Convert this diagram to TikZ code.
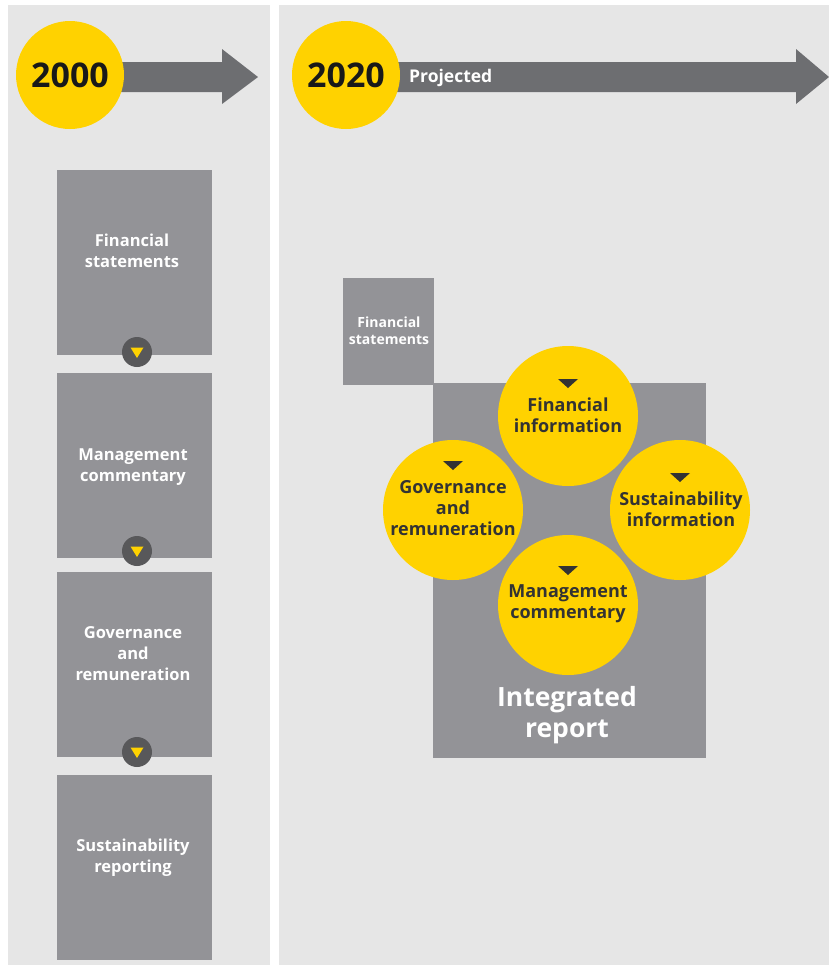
\documentclass[tikz,border=0pt]{standalone}
\usepackage{fontspec}
\setmainfont{Open Sans}
\usetikzlibrary{shapes.geometric,calc}
\definecolor{panelgray}{HTML}{E6E6E6}
\definecolor{boxgray}{HTML}{939397}
\definecolor{eyyellow}{HTML}{FFD200}
\definecolor{arrowgray}{HTML}{6D6E71}
\definecolor{dotgray}{HTML}{58585A}
\definecolor{darktext}{HTML}{333333}
\tikzset{
  panel/.style={fill=panelgray, draw=none},
  lbox/.style={rectangle, fill=boxgray, draw=none, inner sep=0pt},
  boxtext/.style={text=white, font=\bfseries\fontsize{16.5}{21}\selectfont, align=center, inner sep=0pt},
  yearcircle/.style={circle, fill=eyyellow, draw=none, minimum size=108pt, inner sep=0pt, text=black!90, font=\bfseries\fontsize{34}{34}\selectfont},
  bigarrow/.style={fill=arrowgray, draw=none},
  dotc/.style={circle, fill=dotgray, draw=none, minimum size=30pt, inner sep=0pt},
  ytri/.style={fill=eyyellow, draw=none},
  dtri/.style={fill=darktext, draw=none},
  ycirc/.style={circle, fill=eyyellow, draw=none, minimum size=140pt, inner sep=0pt},
  circtext/.style={text=darktext, font=\bfseries\fontsize{18}{21}\selectfont, align=center, inner sep=0pt},
}
\begin{document}
\begin{tikzpicture}[x=1pt,y=-1pt]
\useasboundingbox (0,0) rectangle (829,967);
\fill[white] (0,0) rectangle (829,967);
\fill[panel] (8,5) rectangle (270,965);
\fill[panel] (279,5) rectangle (829,965);
% arrows
\fill[bigarrow] (100,62) -- (222,62) -- (222,49) -- (258,77) -- (222,104) -- (222,92) -- (100,92) -- cycle;
\fill[bigarrow] (380,62) -- (796,62) -- (796,49) -- (829,77) -- (796,104) -- (796,92) -- (380,92) -- cycle;
\node[yearcircle] (y2000) at (70,75) {2000};
\node[yearcircle] (y2020) at (346,75) {2020};
\node[text=white, font=\bfseries\fontsize{17.5}{17.5}\selectfont, anchor=base west, inner sep=0pt] (proj) at (409,82) {Projected};
% left boxes
\node[lbox, minimum width=155pt, minimum height=185pt] (b1) at (134.5,262.5) {};
\node[lbox, minimum width=155pt, minimum height=185pt] (b2) at (134.5,465.5) {};
\node[lbox, minimum width=155pt, minimum height=185pt] (b3) at (134.5,664.5) {};
\node[lbox, minimum width=155pt, minimum height=185pt] (b4) at (134.5,867.5) {};
\node[boxtext] (t1) at (132,251) {Financial\\statements};
\node[boxtext] (t2) at (133,467) {Management\\commentary};
\node[boxtext] (t3) at (133,654) {Governance\\and\\remuneration};
\node[boxtext] (t4) at (133,858) {Sustainability\\reporting};
% connector dots
\foreach \n/\yy in {d1/352,d2/551,d3/752}{
  \node[dotc] (\n) at (137,\yy) {};
  \fill[ytri] ($(\n)+(-6.5,-4.5)$) -- ($(\n)+(6.5,-4.5)$) -- ($(\n)+(0,6)$) -- cycle;
}
% right side
\node[lbox, minimum width=91pt, minimum height=107pt] (fs) at (388.5,331.5) {};
\node[text=white, font=\bfseries\fontsize{14}{17}\selectfont, align=center, inner sep=0pt] (fst) at (389,331) {Financial\\statements};
\node[lbox, minimum width=273pt, minimum height=375pt] (ir) at (569.5,570.5) {};
\node[text=white, font=\bfseries\fontsize{26.5}{31}\selectfont, align=center, inner sep=0pt] (irt) at (567,715) {Integrated\\report};
\node[ycirc] (c1) at (568,416) {};
\node[ycirc] (c2) at (453,510) {};
\node[ycirc] (c3) at (680,510) {};
\node[ycirc] (c4) at (568,605) {};
\node[circtext] at (568,415) {Financial\\information};
\node[circtext] at (453,508) {Governance\\and\\remuneration};
\node[circtext] at (681,509) {Sustainability\\information};
\node[circtext] at (568,604) {Management\\commentary};
\foreach \n/\dy in {c1/-32,c2/-44,c3/-32,c4/-34}{
  \fill[dtri] ($(\n)+(-10,\dy-5)$) -- ($(\n)+(10,\dy-5)$) -- ($(\n)+(0,\dy+4)$) -- cycle;
}
\end{tikzpicture}
\end{document}
